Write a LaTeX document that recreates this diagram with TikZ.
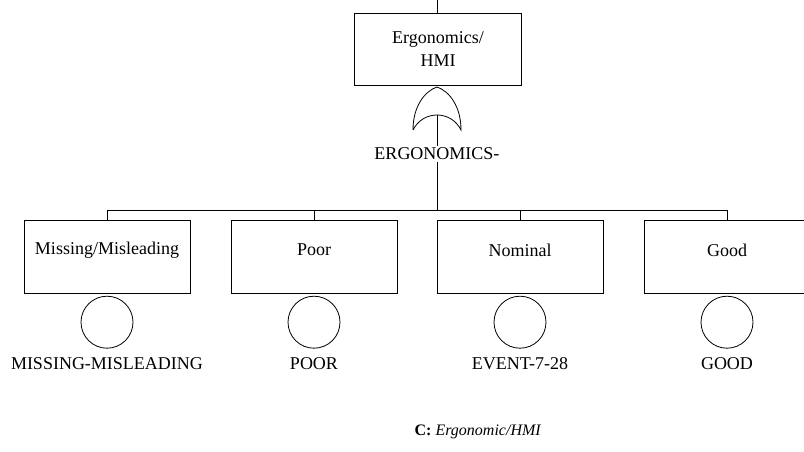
\documentclass[tikz,border=0pt]{standalone}
\usepackage{fontspec}
\setmainfont{Liberation Serif}
\begin{document}
\begin{tikzpicture}[x=1pt,y=-1pt,thick,
    event box/.style={rectangle,draw,minimum width=166pt,minimum height=73pt,anchor=north},
    box text/.style={font=\fontsize{18}{23}\selectfont},
    basic event/.style={circle,draw,minimum size=52pt,inner sep=0pt,anchor=north},
    event label/.style={font=\fontsize{18}{21}\selectfont,inner sep=1pt}]

  \useasboundingbox (0,0) rectangle (804,452);

  % top event
  \node[event box,minimum width=167pt,minimum height=72pt,align=center,box text]
    (top) at (438,13) {Ergonomics/\\HMI};
  \coordinate (in) at (437,0);
  \draw (in) -- (top.north -| in);

  % OR gate
  \coordinate (gate) at (437,87);
  \draw (413,130) .. controls (413,106) and (425,91) .. (gate)
                  .. controls (449,91) and (461,106) .. (461,130)
                  .. controls (451,110) and (423,110) .. (413,130);
  \coordinate (gout) at (437,115);
  \coordinate (bus) at (437,210);
  \draw (gout) -- (bus);
  \node[event label,fill=white,inner sep=2pt] (gname) at (437,154) {ERGONOMICS-};

  % basic events
  \node[event box] (miss) at (107,220) {};
  \node[event box] (poor) at (314,220) {};
  \node[event box] (nom)  at (520,220) {};
  \node[event box] (good) at (727,220) {};

  \node[box text] at (107,250) {Missing/Misleading};
  \node[box text] at (314,250) {Poor};
  \node[box text] at (520,250) {Nominal};
  \node[box text] at (727,250) {Good};

  \foreach \n/\t in {miss/MISSING-MISLEADING,poor/POOR,nom/EVENT-7-28,good/GOOD}{
    \draw (\n.north) |- (bus);
    \node[basic event] (\n c) at ([yshift=-2pt]\n.south) {};
    \node[event label] (\n l) at ([yshift=-15pt]\n c.south) {\t};
  }

  % caption
  \node[font=\fontsize{16}{18}\selectfont] (cap) at (478,432)
    {\textbf{C:} \textit{Ergonomic/HMI}};
\end{tikzpicture}
\end{document}
